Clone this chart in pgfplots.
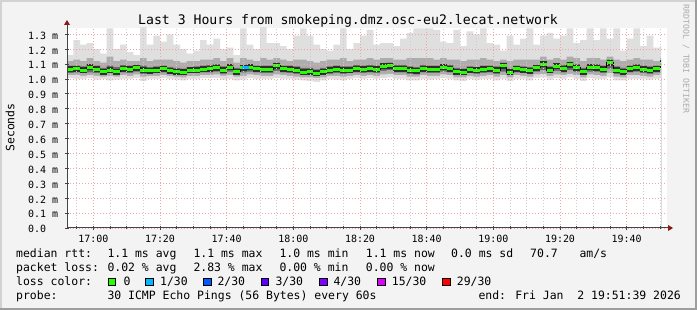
\documentclass[border=0pt]{standalone}
\usepackage{fontspec}
\usepackage{pgfplots}
\pgfplotsset{compat=1.18}
\usepackage{pgfplotstable}
\setmainfont{DejaVu Sans Mono}
\definecolor{bgc}{HTML}{F3F3F3}
\definecolor{framelight}{HTML}{D2D2D2}
\definecolor{framedark}{HTML}{9E9E9E}
\definecolor{gridred}{HTML}{F2A3A3}
\definecolor{gridgrey}{HTML}{CDCDCD}
\definecolor{axisgrey}{HTML}{454545}
\definecolor{arrowred}{HTML}{8B1A1A}
\definecolor{sm1}{HTML}{DFDFDF}
\definecolor{sm2}{HTML}{ADADAD}
\definecolor{sm3}{HTML}{6A6A6A}
\definecolor{sm4}{HTML}{2E2E2E}
\definecolor{medgreen}{HTML}{26FF00}
\definecolor{l1}{HTML}{00B8FF}
\definecolor{l2}{HTML}{0059FF}
\definecolor{l3}{HTML}{5E00FF}
\definecolor{l4}{HTML}{7E00FF}
\definecolor{l15}{HTML}{DD00FF}
\definecolor{l29}{HTML}{FF0000}
\definecolor{rrdgrey}{HTML}{ABABAB}
\newcommand\legfont{\fontsize{11.5}{13}\selectfont}

\pgfplotstableread{
t hi t2 t3 med b3 b2 lo
-8 1.16 1.12 1.09 1.065 1.04 1.025 1.005
-6 1.26 1.13 1.09 1.070 1.045 1.025 1.00
-4 1.23 1.12 1.085 1.060 1.04 1.02 1.00
-2 1.24 1.14 1.10 1.080 1.045 1.025 1.005
0 1.20 1.12 1.09 1.065 1.04 1.02 0.995
2 1.17 1.11 1.075 1.050 1.03 1.015 1.00
4 1.34 1.15 1.09 1.060 1.04 1.02 0.99
6 1.20 1.12 1.08 1.050 1.03 1.015 0.995
8 1.23 1.13 1.095 1.070 1.045 1.025 1.00
10 1.18 1.12 1.09 1.065 1.04 1.02 1.00
12 1.16 1.12 1.095 1.075 1.05 1.03 1.005
14 1.35 1.14 1.09 1.060 1.035 1.015 0.985
16 1.23 1.12 1.08 1.055 1.035 1.02 1.00
18 1.29 1.13 1.085 1.060 1.04 1.02 1.00
20 1.25 1.13 1.09 1.070 1.045 1.025 1.005
22 1.30 1.13 1.08 1.055 1.035 1.02 1.00
24 1.23 1.12 1.075 1.050 1.03 1.015 0.995
26 1.20 1.11 1.07 1.045 1.025 1.01 0.99
28 1.17 1.12 1.08 1.060 1.04 1.02 1.00
30 1.19 1.12 1.085 1.060 1.04 1.02 1.00
32 1.26 1.13 1.09 1.065 1.045 1.025 1.005
34 1.23 1.13 1.095 1.070 1.045 1.025 1.005
36 1.27 1.14 1.10 1.075 1.05 1.03 1.005
38 1.20 1.12 1.085 1.060 1.035 1.02 0.995
40 1.21 1.14 1.10 1.080 1.05 1.025 1.00
42 1.16 1.11 1.075 1.050 1.03 1.015 0.99
44 1.34 1.14 1.095 1.075 1.045 1.02 0.995
46 1.23 1.13 1.10 1.080 1.05 1.03 1.005
48 1.20 1.12 1.09 1.070 1.045 1.025 1.00
50 1.35 1.14 1.09 1.065 1.04 1.02 1.00
52 1.24 1.13 1.09 1.065 1.04 1.02 1.00
54 1.24 1.14 1.11 1.090 1.055 1.03 1.005
56 1.22 1.13 1.09 1.070 1.045 1.025 1.00
58 1.20 1.12 1.09 1.065 1.04 1.02 1.00
60 1.29 1.13 1.085 1.060 1.035 1.015 0.995
62 1.34 1.13 1.075 1.045 1.025 1.01 0.99
64 1.29 1.12 1.075 1.050 1.03 1.01 0.985
66 1.23 1.11 1.065 1.040 1.02 1.005 0.98
68 1.20 1.12 1.075 1.050 1.03 1.01 0.99
70 1.19 1.13 1.085 1.060 1.035 1.02 1.00
72 1.23 1.13 1.09 1.065 1.04 1.02 0.995
74 1.34 1.14 1.085 1.060 1.035 1.015 0.99
76 1.20 1.12 1.085 1.060 1.04 1.02 1.00
78 1.24 1.13 1.095 1.070 1.045 1.025 1.005
80 1.29 1.13 1.09 1.065 1.04 1.02 1.00
82 1.33 1.14 1.095 1.070 1.045 1.025 1.005
84 1.23 1.13 1.09 1.065 1.04 1.02 1.00
86 1.24 1.14 1.105 1.085 1.055 1.03 1.005
88 1.24 1.14 1.11 1.090 1.06 1.035 1.01
90 1.22 1.13 1.095 1.070 1.045 1.025 1.00
92 1.27 1.13 1.095 1.070 1.045 1.025 1.00
94 1.31 1.14 1.085 1.060 1.035 1.015 0.99
96 1.34 1.14 1.08 1.055 1.03 1.015 0.99
98 1.34 1.14 1.095 1.070 1.045 1.025 1.00
100 1.34 1.14 1.09 1.065 1.04 1.02 0.995
102 1.33 1.13 1.09 1.065 1.04 1.02 1.00
104 1.25 1.14 1.10 1.080 1.05 1.03 1.005
106 1.24 1.13 1.095 1.070 1.045 1.025 1.00
108 1.33 1.13 1.075 1.050 1.03 1.01 0.99
110 1.22 1.12 1.07 1.045 1.025 1.01 0.985
112 1.32 1.13 1.085 1.063 1.04 1.02 1.00
114 1.30 1.13 1.08 1.058 1.035 1.015 0.995
116 1.34 1.14 1.09 1.065 1.04 1.02 1.00
118 1.24 1.13 1.09 1.068 1.045 1.025 1.00
120 1.23 1.12 1.085 1.060 1.035 1.015 0.99
122 1.19 1.13 1.11 1.090 1.05 1.025 1.00
124 1.29 1.12 1.07 1.045 1.025 1.01 0.985
126 1.23 1.13 1.09 1.068 1.045 1.025 1.00
128 1.27 1.13 1.085 1.062 1.04 1.02 1.00
130 1.34 1.13 1.08 1.055 1.035 1.015 0.99
132 1.23 1.13 1.095 1.075 1.05 1.03 1.005
134 1.29 1.15 1.12 1.100 1.06 1.035 1.01
136 1.31 1.13 1.085 1.060 1.04 1.02 0.995
138 1.27 1.14 1.105 1.085 1.055 1.03 1.005
140 1.29 1.13 1.095 1.070 1.045 1.025 1.00
142 1.34 1.15 1.115 1.095 1.06 1.035 1.01
144 1.24 1.14 1.10 1.075 1.05 1.025 1.00
146 1.26 1.12 1.075 1.050 1.03 1.01 0.985
148 1.34 1.14 1.10 1.080 1.05 1.03 1.005
150 1.26 1.14 1.10 1.075 1.05 1.025 1.00
152 1.34 1.13 1.09 1.065 1.04 1.02 1.00
154 1.27 1.15 1.13 1.110 1.07 1.04 1.01
156 1.34 1.13 1.085 1.060 1.035 1.015 0.99
158 1.19 1.12 1.075 1.050 1.03 1.01 0.99
160 1.27 1.13 1.09 1.070 1.045 1.025 1.00
162 1.34 1.14 1.10 1.075 1.05 1.025 1.00
164 1.22 1.13 1.09 1.065 1.04 1.02 1.00
166 1.29 1.13 1.085 1.060 1.035 1.015 0.995
168 1.21 1.12 1.09 1.070 1.045 1.025 1.00
170 1.22 1.14 1.125 1.105 1.07 1.04 1.01
170.3 1.22 1.14 1.125 1.105 1.07 1.04 1.01
}\smoke

\begin{document}
\begin{tikzpicture}
\path[use as bounding box] (0,0) rectangle (697bp,310bp);
\fill[bgc] (0,0) rectangle (697bp,310bp);
\fill[framelight] (0,0) rectangle (2bp,310bp);
\fill[framelight] (0,308bp) rectangle (697bp,310bp);
\fill[framedark] (695bp,0) rectangle (697bp,310bp);
\fill[framedark] (0,0) rectangle (697bp,2bp);

\begin{axis}[
  at={(67bp,82bp)}, anchor=south west,
  scale only axis, width=600bp, height=200bp,
  xmin=-7.9, xmax=172.1, ymin=0, ymax=1.342,
  axis line style={draw=none},
  axis background/.style={fill=white},
  axis on top,
  xtick={0,20,40,60,80,100,120,140,160},
  xticklabels={17:00,17:20,17:40,18:00,18:20,18:40,19:00,19:20,19:40},
  minor xtick={-5,5,10,15,25,30,35,45,50,55,65,70,75,85,90,95,105,110,115,125,130,135,145,150,155,165,170},
  ytick={0,0.1,0.2,0.3,0.4,0.5,0.6,0.7,0.8,0.9,1.0,1.1,1.2,1.3},
  yticklabels={0.0,0.1 m,0.2 m,0.3 m,0.4 m,0.5 m,0.6 m,0.7 m,0.8 m,0.9 m,1.0 m,1.1 m,1.2 m,1.3 m},
  xmajorgrids, xminorgrids, ymajorgrids,
  major grid style={draw=gridred, line width=0.8bp, dash pattern=on 1bp off 2bp},
  minor grid style={draw=gridgrey, line width=0.8bp, dash pattern=on 1bp off 2bp},
  tick pos=left, tick align=center,
  major tick length=4bp, minor tick length=3bp,
  tick style={draw=axisgrey, line width=0.8bp},
  ticklabel style={font=\fontsize{10}{12}\selectfont, text=black},
  xticklabel style={anchor=north, inner sep=0pt, yshift=-5.3bp},
  yticklabel style={anchor=west, inner sep=0pt, xshift=-37bp, yshift=-1.2bp},
]
\addplot[const plot, fill=sm1, draw=none] table[x=t,y=hi]{\smoke} \closedcycle;
\addplot[const plot, fill=sm2, draw=none] table[x=t,y=t2]{\smoke} \closedcycle;
\addplot[const plot, fill=sm3, draw=none] table[x=t,y=t3]{\smoke} \closedcycle;
\addplot[const plot, fill=sm2, draw=none] table[x=t,y=b3]{\smoke} \closedcycle;
\addplot[const plot, fill=sm1, draw=none] table[x=t,y=b2]{\smoke} \closedcycle;
\addplot[const plot, fill=white, draw=none] table[x=t,y=lo]{\smoke} \closedcycle;
\addplot[jump mark left, draw=sm4, line width=6bp] table[x=t,y=med]{\smoke};
\addplot[const plot, draw=black, line width=0.6bp] table[x=t,y=med]{\smoke};
\addplot[jump mark left, draw=medgreen, line width=3bp] table[x=t,y=med]{\smoke};
\addplot[draw=l1, line width=3bp] coordinates {(44.6,1.075) (46.6,1.075)};
\end{axis}

% axis lines and arrows
\draw[axisgrey, line width=1bp] (67bp,82bp) -- (67bp,286bp);
\draw[axisgrey, line width=1bp] (67bp,82bp) -- (669bp,82bp);
\fill[arrowred] (64bp,285bp) -- (70bp,285bp) -- (67bp,290bp) -- cycle;
\fill[arrowred] (668bp,79bp) -- (668bp,85bp) -- (673bp,82bp) -- cycle;

% title and labels
\node[anchor=base, inner sep=0pt, font=\fontsize{13.2}{15}\selectfont] at (348bp,285.7bp) {Last 3 Hours from smokeping.dmz.osc-eu2.lecat.network};
\node[rotate=90, inner sep=0pt, font=\legfont] at (10bp,182.5bp) {Seconds};
\node[rotate=-90, inner sep=0pt, text=rrdgrey, font=\fontsize{8.2}{10}\selectfont] at (686bp,251bp) {RRDTOOL / TOBI OETIKER};

% legend
\begin{scope}[every node/.style={anchor=base west, inner sep=0pt, font=\legfont}]
\node at (16bp,52.5bp) {median rtt:};
\node at (107.3bp,52.5bp) {1.1 ms avg};
\node at (193.3bp,52.5bp) {1.1 ms max};
\node at (279.3bp,52.5bp) {1.0 ms min};
\node at (365.7bp,52.5bp) {1.1 ms now};
\node at (451bp,52.5bp) {0.0 ms sd};
\node at (530bp,52.5bp) {70.7};
\node at (579.3bp,52.5bp) {am/s};

\node at (16bp,38.5bp) {packet loss:};
\node at (107.3bp,38.5bp) {0.02 \% avg};
\node at (193.3bp,38.5bp) {2.83 \% max};
\node at (279.3bp,38.5bp) {0.00 \% min};
\node at (365.7bp,38.5bp) {0.00 \% now};

\node at (16bp,24.5bp) {loss color:};
\node at (123.3bp,24.5bp) {0};
\node at (160bp,24.5bp) {1/30};
\node at (217.3bp,24.5bp) {2/30};
\node at (275.3bp,24.5bp) {3/30};
\node at (333.3bp,24.5bp) {4/30};
\node at (391.7bp,24.5bp) {15/30};
\node at (456.7bp,24.5bp) {29/30};

\node at (16bp,10.5bp) {probe:};
\node at (107.3bp,10.5bp) {30 ICMP Echo Pings (56 Bytes) every 60s};
\node at (478.3bp,10.5bp) {end: Fri Jan\ \ 2 19:51:39 2026};
\end{scope}
\begin{scope}[line width=0.7bp]
\filldraw[fill=medgreen, draw=black] (108bp,24.3bp) rectangle (115.7bp,32bp);
\filldraw[fill=l1, draw=black] (145.7bp,24.3bp) rectangle (153.4bp,32bp);
\filldraw[fill=l2, draw=black] (203.3bp,24.3bp) rectangle (211bp,32bp);
\filldraw[fill=l3, draw=black] (261bp,24.3bp) rectangle (268.7bp,32bp);
\filldraw[fill=l4, draw=black] (319.3bp,24.3bp) rectangle (327bp,32bp);
\filldraw[fill=l15, draw=black] (377.7bp,24.3bp) rectangle (385.4bp,32bp);
\filldraw[fill=l29, draw=black] (442.3bp,24.3bp) rectangle (450bp,32bp);
\end{scope}
\end{tikzpicture}
\end{document}
